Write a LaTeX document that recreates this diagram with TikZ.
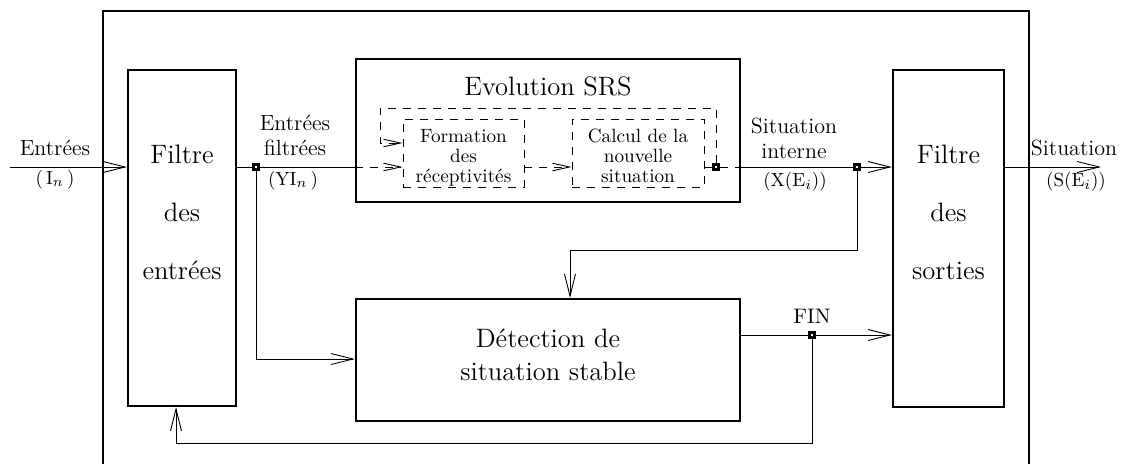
\documentclass[tikz,border=0pt]{standalone}
\usetikzlibrary{arrows.meta}
\begin{document}
\begin{tikzpicture}[x=0.5pt,y=-0.5pt,
  box/.style={draw,line width=1.1pt,inner sep=0pt},
  dbox/.style={draw,line width=0.45pt,dash pattern=on 4pt off 3.5pt,inner sep=0pt},
  conn/.style={line width=0.45pt},
  dconn/.style={line width=0.45pt,dash pattern=on 4pt off 3.5pt},
  arr/.style={conn,-{Straight Barb[length=11pt,width=5.5pt]}},
  darr/.style={dconn,-{Straight Barb[length=8.5pt,width=3.8pt]}},
  jn/.style={draw,fill=white,line width=1.3pt,inner sep=0pt,minimum size=2.6pt},
  bigtxt/.style={font=\fontsize{13.3}{16}\selectfont,anchor=base,inner sep=0pt},
  labtxt/.style={font=\fontsize{11}{13}\selectfont,anchor=base,inner sep=0pt},
  smalltxt/.style={font=\fontsize{9.6}{11}\selectfont,anchor=base,inner sep=0pt},
  partxt/.style={font=\fontsize{9.5}{11}\selectfont,anchor=base,inner sep=0pt}]
\useasboundingbox (0,0) rectangle (1122,463);

% outer frame
\coordinate (ofl) at (103,470);
\coordinate (oftl) at (103,11);
\coordinate (oftr) at (1029,11);
\coordinate (ofr) at (1029,470);
\draw[line width=1.1pt] (ofl) -- (oftl) -- (oftr) -- (ofr);

% boxes
\node[box,minimum width=54pt,minimum height=168pt] (fe) at (182,238) {};
\node[box,minimum width=55.5pt,minimum height=168.5pt] (fs) at (948.5,238.5) {};
\node[box,minimum width=192pt,minimum height=71.5pt] (evo) at (548,130.5) {};
\node[box,minimum width=192pt,minimum height=61pt] (det) at (548,360) {};
\node[dbox,minimum width=60.5pt,minimum height=34pt] (form) at (463.5,153) {};
\node[dbox,minimum width=66pt,minimum height=34pt] (calc) at (638,153) {};

% box texts
\node[bigtxt] (fe1) at (182,163) {Filtre};
\node[bigtxt] (fe2) at (182,221) {des};
\node[bigtxt] (fe3) at (182,279) {entrées};
\node[bigtxt] (fs1) at (948.5,163) {Filtre};
\node[bigtxt] (fs2) at (948.5,221) {des};
\node[bigtxt] (fs3) at (948.5,279) {sorties};
\node[bigtxt] (evot) at (548,95) {Evolution SRS};
\node[bigtxt] (det1) at (548,347) {Détection de};
\node[bigtxt] (det2) at (548,380) {situation stable};
\node[smalltxt] (fo1) at (463.5,142) {Formation};
\node[smalltxt] (fo2) at (463.5,162) {des};
\node[smalltxt] (fo3) at (463.5,182) {réceptivités};
\node[smalltxt] (ca1) at (638,142) {Calcul de la};
\node[smalltxt] (ca2) at (638,162) {nouvelle};
\node[smalltxt] (ca3) at (638,182) {situation};

% labels
\node[labtxt] (l1) at (55,155) {Entrées};
\node[partxt] (l1b) at (55,184) {(\,I$_n$\,)};
\node[labtxt] (l2) at (295,130) {Entrées};
\node[labtxt] (l2a) at (295,155) {filtrées};
\node[partxt] (l2b) at (293,185) {(YI$_n$\,)};
\node[labtxt] (l3) at (794,133) {Situation};
\node[labtxt] (l3a) at (794,158) {interne};
\node[partxt] (l3b) at (795,186) {(X(E$_i$))};
\node[labtxt] (l4) at (1074,155) {Situation};
\node[partxt] (l4b) at (1076,186) {(S(E$_i$))};
\node[font=\fontsize{10.5}{12}\selectfont,anchor=base,inner sep=0pt] (fin) at (812,323) {FIN};

% junctions
\node[jn] (j1) at (256,167) {};
\node[jn] (j2) at (716,167) {};
\node[jn] (j3) at (857,167) {};
\node[jn] (j4) at (812,335) {};

% connectors
\coordinate (inS) at (10,167);
\draw[arr] (inS) -- (inS -| fe.west);
\draw[conn] (fe.east |- j1) -- (j1);
\draw[conn] (j1) -- (j1 -| evo.west);
\draw[darr] (j1 -| evo.west) -- (j1 -| form.west);
\draw[darr] (j1 -| form.east) -- (j1 -| calc.west);
\draw[dconn] (j1 -| calc.east) -- (j2);
\draw[dconn] (j2) -- (j2 -| evo.east);
\draw[conn] (j2 -| evo.east) -- (j3);
\draw[arr] (j3) -- (j3 -| fs.west);

\coordinate (lp) at (380,108);
\coordinate (lpin) at (380,143);
\draw[darr] (j2) |- (lp) -- (lpin) -- (lpin -| form.west);

\coordinate (k) at (570,250);
\draw[arr] (j3) |- (k) -- (k |- det.north);

\coordinate (m) at (256,359);
\draw[arr] (j1) -- (m) -- (m -| det.west);

\draw[conn] (det.east |- j4) -- (j4);
\draw[arr] (j4) -- (j4 -| fs.west);
\coordinate (fb) at (176,443);
\draw[arr] (j4) |- (fb) -- (fb |- fe.south);

\coordinate (outS) at (1101,167);
\draw[arr] (fs.east |- outS) -- (outS);
\end{tikzpicture}
\end{document}
